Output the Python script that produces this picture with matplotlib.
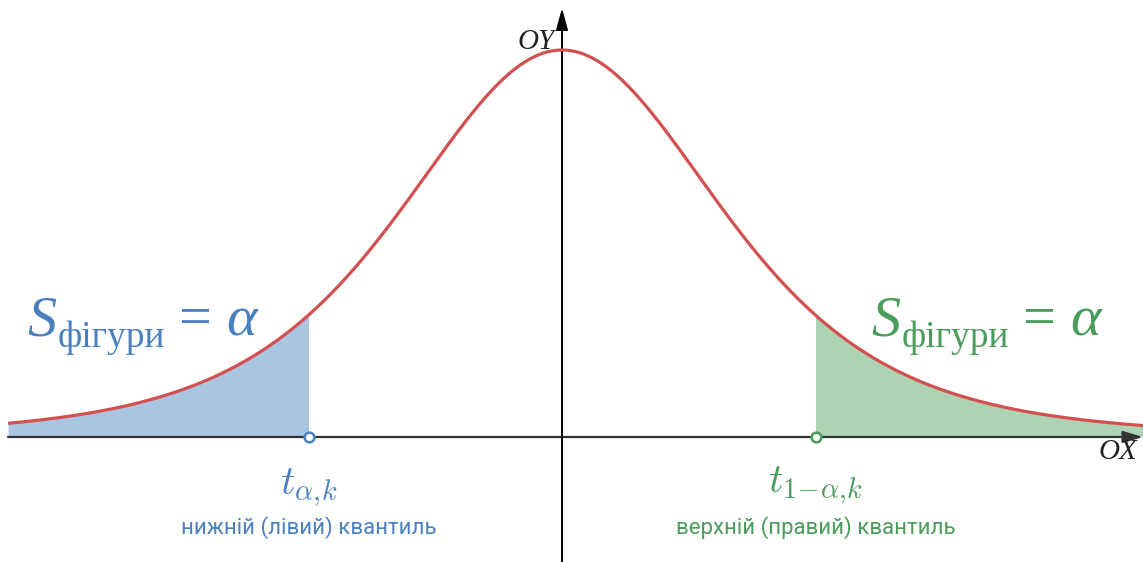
import math
import numpy as np
import matplotlib.pyplot as plt

# Параметри розподілу Стьюдента
k = 4                 # ступені свободи
alpha = 0.1           # рівень значущості
t_quant = 1.533       # t_{1-alpha,k}
x_left, x_right = -3.35, 3.52

t_left = r"$t_{\alpha,\!k}$"
t_right = r"$t_{1\!-\!\alpha,\!k}$"
caption_left = "нижній (лівий) квантиль"
caption_right = "верхній (правий) квантиль"

blue_text = "#4a80c0"
blue_fill = "#aac5e2"
green_text = "#4a9c5a"
green_fill = "#add3b3"
red = "#d25050"


def student_pdf(x, n):
    c = math.gamma((n + 1) / 2) / (math.sqrt(n * math.pi) * math.gamma(n / 2))
    return c * (1 + x ** 2 / n) ** (-(n + 1) / 2)


W, H = 1143, 562
fig = plt.figure(figsize=(W / 100, H / 100), dpi=100)
ax = fig.add_axes([0, 0, 1, 1])
ax.axis('off')

sx = 253.5 / t_quant                   # пікселів на одиницю по x
peak = student_pdf(0, k)
sy = 387 / peak                        # пікселів на одиницю по y
x_min, x_max = -562 / sx, (W - 562) / sx
y_min, y_max = -(H - 437) / sy, 437 / sy
ax.set_xlim(x_min, x_max)
ax.set_ylim(y_min, y_max)


def px(xp, yp):
    """Пікселі (від лівого верхнього кута) -> частки осей."""
    return xp / W, 1 - yp / H


x = np.linspace(x_left, x_right, 800)
y = student_pdf(x, k)

# заштриховані хвости
m_l = x <= -t_quant
xl = np.append(x[m_l], -t_quant)
ax.fill_between(xl, 0, student_pdf(xl, k), color=blue_fill, lw=0, zorder=1)
m_r = x >= t_quant
xr = np.insert(x[m_r], 0, t_quant)
ax.fill_between(xr, 0, student_pdf(xr, k), color=green_fill, lw=0, zorder=1)

# осі зі стрілками
ax.annotate('', xy=(x_max, 0), xytext=(x_left, 0), annotation_clip=False,
            arrowprops=dict(arrowstyle='-|>,head_length=1.0,head_width=0.3',
                            mutation_scale=12, lw=1.6, color='#333333',
                            shrinkA=0, shrinkB=0), zorder=2)
ax.annotate('', xy=(0, 429 / sy), xytext=(0, y_min), annotation_clip=False,
            arrowprops=dict(arrowstyle='-|>,head_length=1.1,head_width=0.3',
                            mutation_scale=12, lw=1.4, color='black',
                            shrinkA=0, shrinkB=0), zorder=2)

ax.plot(x, y, color=red, lw=2.3, zorder=3, solid_capstyle='butt')

# квантилі
ax.plot([-t_quant], [0], 'o', ms=7, mfc='white', mec=blue_text, mew=1.8, zorder=4)
ax.plot([t_quant], [0], 'o', ms=7, mfc='white', mec=green_text, mew=1.8, zorder=4)

ax.text(*px(555, 42), "OY", transform=ax.transAxes, fontsize=21,
        family='Liberation Serif', style='italic', ha='right', va='center',
        color='#222222')
ax.text(*px(1137, 452), "OX", transform=ax.transAxes, fontsize=21,
        family='Liberation Serif', style='italic', ha='right', va='center',
        color='#222222')

# підписи площ: S, нижній індекс, знак рівності та alpha
for x0, col in [(28, blue_text), (872, green_text)]:
    ax.text(*px(x0 - 1, 335), "S", transform=ax.transAxes, fontsize=42,
            family='Liberation Serif', style='italic', color=col,
            ha='left', va='baseline')
    ax.text(*px(x0 + 30, 347), "фігури", transform=ax.transAxes, fontsize=27,
            family='Liberation Serif', color=col, ha='left', va='baseline')
    ax.text(*px(x0 + 150, 335), "=", transform=ax.transAxes, fontsize=42,
            family='Liberation Serif', color=col, ha='left', va='baseline')
    ax.text(*px(x0 + 198, 335), "α", transform=ax.transAxes, fontsize=42,
            family='Liberation Serif', style='italic', color=col,
            ha='left', va='baseline')

ax.text(-t_quant, -(494 - 437) / sy, t_left, fontsize=29, color=blue_text,
        ha='center', va='baseline', math_fontfamily='cm')
ax.text(t_quant, -(492 - 437) / sy, t_right, fontsize=29, color=green_text,
        ha='center', va='baseline', math_fontfamily='cm')

ax.text(-t_quant, -(528 - 437) / sy, caption_left, fontsize=16, family='Roboto',
        color=blue_text, ha='center', va='center')
ax.text(t_quant, -(528 - 437) / sy, caption_right, fontsize=16, family='Roboto',
        color=green_text, ha='center', va='center')

fig.savefig('out.png', dpi=100)
